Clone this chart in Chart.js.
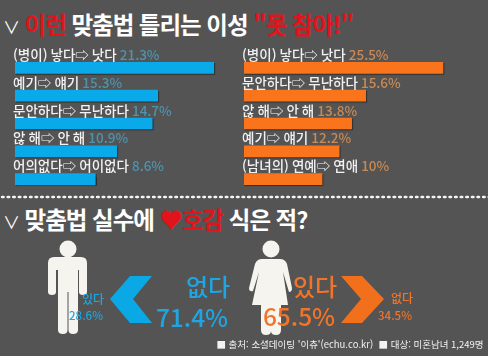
<!DOCTYPE html>
<html lang="ko"><head><meta charset="utf-8">
<script src="https://cdn.jsdelivr.net/npm/chart.js@4"></script>
<style>
html,body{margin:0;padding:0;background:#545454;}
#page{position:relative;width:488px;height:356px;overflow:hidden;background:#545454;font-family:"Noto Sans CJK KR","Noto Sans",sans-serif;filter:blur(0.6px);}
canvas{position:absolute;}
.t{position:absolute;white-space:nowrap;line-height:1;transform:translate(-50%,-50%);}
.h{font-weight:700;font-size:23.5px;letter-spacing:-1px;color:#fff;transform:translateY(-50%);}
.r{color:#e0141a}.b{color:#1fa6e2}.o{color:#f0752a}
#dots{position:absolute;left:0;top:195px;width:488px;height:4px;background-image:radial-gradient(circle,#f4f4f4 1.5px,transparent 1.6px);background-size:5.6px 4px;}
svg{position:absolute;left:0;top:0}
</style></head><body>
<div id="page">
<div class="t h" style="left:3px;top:25px;"><span style="font-weight:400;font-size:17px;">∨</span> <span class="r">이런</span> 맞춤법 틀리는 이성 <span class="r">"못 참아!"</span></div>
<canvas id="left" style="left:13px;top:41px"></canvas>
<canvas id="right" style="left:242px;top:41px"></canvas>
<div id="dots"></div>
<div class="t h" style="left:3px;top:220px;"><span style="font-weight:400;font-size:17px;">∨</span> 맞춤법 실수에 <span class="r">♥호감</span> 식은 적?</div>
<svg width="488" height="356">
<g fill="#f6f4ee">
<circle cx="68" cy="249" r="8.5"/>
<path d="M54 257H81Q87 257 87 263V292Q87 295 83 295Q79 295 79 292V270H78V330Q78 334 73 334Q68.5 334 68.5 330V292H67.5V330Q67.5 334 63 334Q58 334 58 330V270H56V292Q56 295 52 295Q48 295 48 292V263Q48 257 54 257Z"/>
<circle cx="271" cy="249" r="8.5"/>
<path d="M262 259H280Q285 259 287 264L292 288Q292 292 289 292L283 272L288 305H281V330Q281 335 276 335Q271 335 271 331Q271 335 266 335Q261 335 261 330V305H252L259 272L253 291Q249 292 249 288L255 264Q257 259 262 259Z"/>
</g>
<polygon fill="#0aa9e6" points="110,299 130,276 152,276 133,299 152,323 130,323"/>
<polygon fill="#f26f1c" points="341,276 362,276 384,299 362,323 341,323 361,299"/>
</svg>
<div class="t b" style="left:208px;top:286px;font-size:24px;font-weight:500">없다</div>
<div class="t b" style="left:192px;top:317px;font-size:24.5px;font-weight:500">71.4%</div>
<div class="t b" style="left:93px;top:299px;font-size:12px;font-weight:500">있다</div>
<div class="t b" style="left:86px;top:316px;font-size:11.5px;font-weight:500">28.6%</div>
<div class="t o" style="left:315px;top:286px;font-size:24px;font-weight:500">있다</div>
<div class="t o" style="left:299px;top:316px;font-size:24.5px;font-weight:500">65.5%</div>
<div class="t o" style="left:402px;top:298px;font-size:12px;font-weight:500">없다</div>
<div class="t o" style="left:395px;top:316px;font-size:11.5px;font-weight:500">34.5%</div>
<div class="t" style="left:350px;top:345px;font-size:9.5px;color:#f2f2f2;">■ 출처: 소셜데이팅 '이츄'(echu.co.kr) &nbsp;■ 대상: 미혼남녀 1,249명</div>
</div>
<script>
const leftLabels=["(병이) 낳다⇨ 낫다","예기⇨ 얘기","문안하다⇨ 무난하다","않 해⇨ 안 해","어의없다⇨ 어이없다"];
const leftValues=[21.3,15.3,14.7,10.9,8.6];
const rightLabels=["(병이) 낳다⇨ 낫다","문안하다⇨ 무난하다","않 해⇨ 안 해","예기⇨ 얘기","(남녀의) 연예⇨ 연애"];
const rightValues=[25.5,15.6,13.8,12.2,10];
const rightValueText=["25.5%","15.6%","13.8%","12.2%","10%"];
const leftValueText=["21.3%","15.3%","14.7%","10.9%","8.6%"];
function make(id,labels,values,texts,max,barColor,valColor){
  const lab={id:'lab',afterDatasetsDraw(c){
    const x=c.ctx,m=c.getDatasetMeta(0);
    x.save();x.font='500 13.5px "Noto Sans CJK KR"';x.textBaseline='middle';
    m.data.forEach((el,i)=>{
      x.fillStyle='#f2f2f2';x.fillText(labels[i],0,el.y-13);
      const w=x.measureText(labels[i]+' ').width;
      x.fillStyle=valColor;x.fillText(texts[i],w,el.y-13);
    });x.restore();
  }};
  const shadow={id:'sh',beforeDatasetsDraw(c){c.ctx.save();c.ctx.shadowColor='rgba(0,0,0,.45)';c.ctx.shadowOffsetX=1;c.ctx.shadowOffsetY=1;c.ctx.shadowBlur=1;},afterDatasetsDraw(c){c.ctx.restore();}};
  new Chart(document.getElementById(id),{type:'bar',
    data:{labels,datasets:[{data:values,backgroundColor:barColor,barThickness:11,borderWidth:0}]},
    options:{indexAxis:'y',responsive:false,animation:false,layout:{padding:{top:13,left:2,right:0,bottom:0}},
      plugins:{legend:{display:false},tooltip:{enabled:false}},
      scales:{x:{display:false,min:0,max:max},y:{display:false}}},
    plugins:[shadow,lab]});
}
for(const id of ['left','right']){const c=document.getElementById(id);c.width=id==='left'?224:242;c.height=152;}
make('left',leftLabels,leftValues,leftValueText,222/9.33,'#0aa9e9','#4f93ad');
make('right',rightLabels,rightValues,rightValueText,240/7.8,'#f9741a','#c98a55');
</script>
</body></html>
